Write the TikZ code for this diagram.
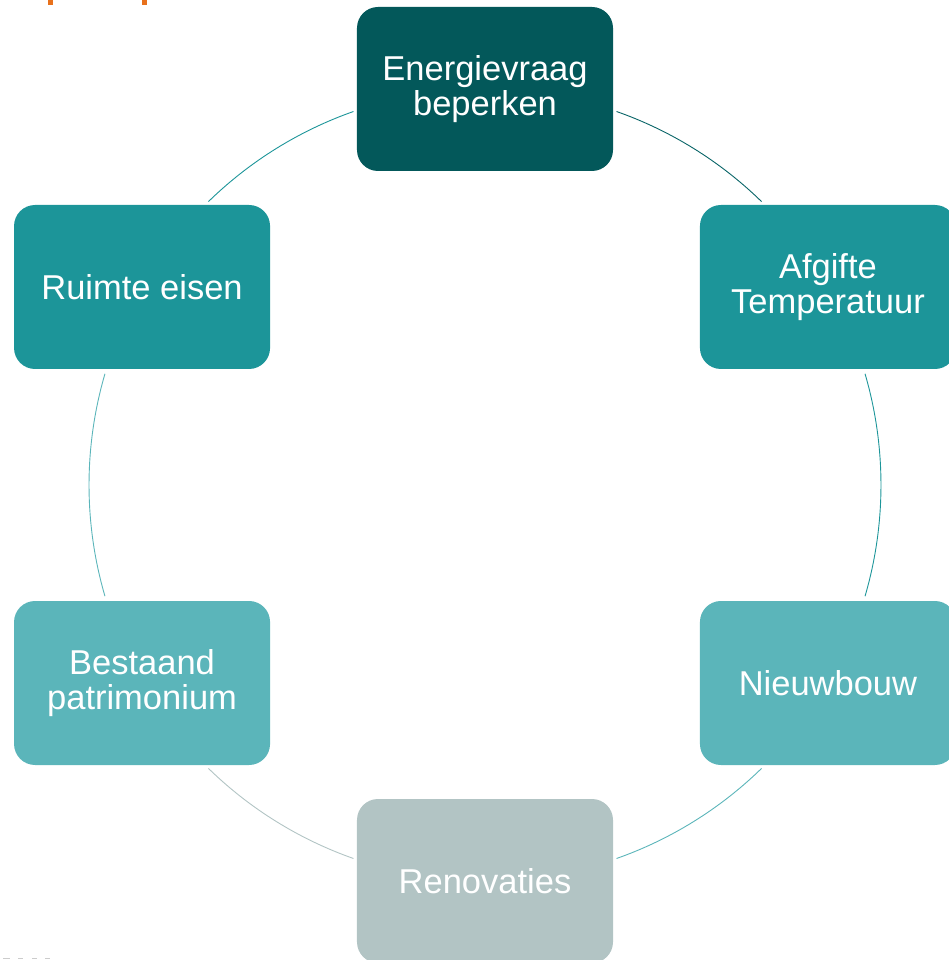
\documentclass[tikz,border=0pt]{standalone}
\usepackage{fontspec}
\setmainfont{Liberation Sans}
\definecolor{darkteal}{HTML}{03585A}
\definecolor{midteal}{HTML}{1C9599}
\definecolor{lightteal}{HTML}{5BB5BA}
\definecolor{greyteal}{HTML}{B2C4C4}
\definecolor{titleorange}{HTML}{E8711C}
\tikzset{
    stepbox/.style={rectangle, rounded corners=21pt, minimum width=256pt, minimum height=164pt,
        text=white, align=center, font=\fontsize{34.5}{35.5}\selectfont},
    ring/.style={line width=0.9pt}
}
\begin{document}
\begin{tikzpicture}[x=1pt,y=1pt]
    \useasboundingbox (-485,-475) rectangle (464,485);
    \node[stepbox, fill=darkteal] (energie) at (90:396) {Energievraag\\beperken};
    \node[stepbox, fill=midteal] (afgifte) at (30:396) {Afgifte\\Temperatuur};
    \node[stepbox, fill=lightteal] (nieuw) at (-30:396) {Nieuwbouw};
    \node[stepbox, fill=greyteal] (renov) at (-90:396) {Renovaties};
    \node[stepbox, fill=lightteal] (bestaand) at (-150:396) {Bestaand\\patrimonium};
    \node[stepbox, fill=midteal] (ruimte) at (150:396) {Ruimte eisen};
    % ends of the ring pieces
    \coordinate (e1) at (70.6:396);
    \coordinate (a1) at (16.3:396);
    \coordinate (n1) at (-45.7:396);
    \coordinate (r1) at (-109.4:396);
    \coordinate (b1) at (-163.7:396);
    \coordinate (u1) at (134.3:396);
    \draw[ring, darkteal!80!midteal] (e1) arc[start angle=70.6, end angle=45.7, radius=396];
    \draw[ring, midteal] (a1) arc[start angle=16.3, end angle=-16.3, radius=396];
    \draw[ring, lightteal] (n1) arc[start angle=-45.7, end angle=-70.6, radius=396];
    \draw[ring, greyteal] (r1) arc[start angle=-109.4, end angle=-134.3, radius=396];
    \draw[ring, lightteal] (b1) arc[start angle=-163.7, end angle=-196.3, radius=396];
    \draw[ring, midteal] (u1) arc[start angle=134.3, end angle=109.4, radius=396];
    % cut-off bits at the edges
    \fill[titleorange] (-437,485) rectangle (-432,480);
    \fill[titleorange] (-343,485) rectangle (-338,480);
    \foreach \x/\w in {-482/7, -467/5, -453/5, -440/5}
        \fill[gray!40] (\x,-473) rectangle ++(\w,-1.2);
\end{tikzpicture}
\end{document}
